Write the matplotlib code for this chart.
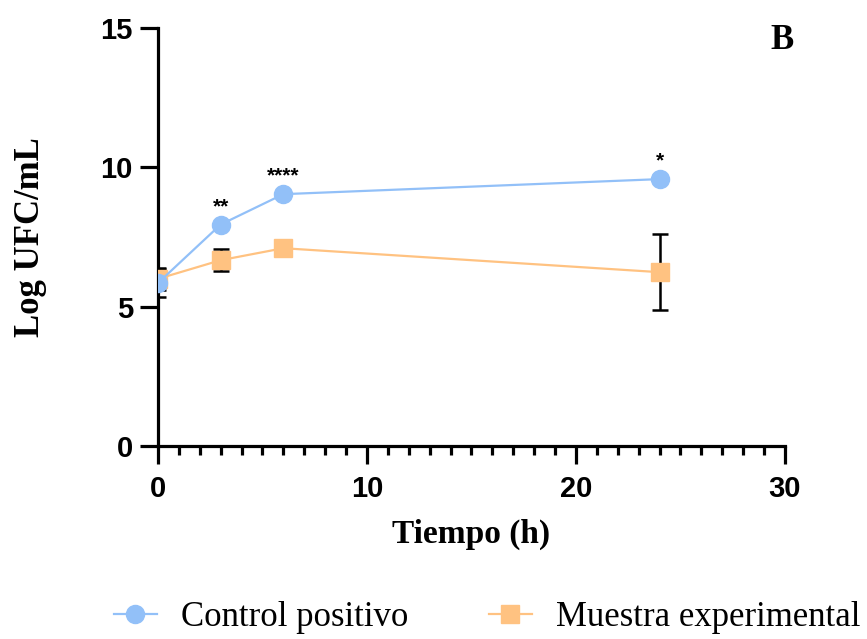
import matplotlib.pyplot as plt
from matplotlib.ticker import MultipleLocator

time_h = [0, 3, 6, 24]
control_mean = [5.85, 7.95, 9.04, 9.58]
control_err = [0.5, 0.0, 0.0, 0.0]
muestra_mean = [6.0, 6.67, 7.1, 6.24]
muestra_err = [0.4, 0.4, 0.0, 1.36]
stars = ["", "**", "****", "*"]

BLUE = "#92C0F8"
ORANGE = "#FFC281"

fig = plt.figure(figsize=(8.67, 6.39), dpi=100)
ax = fig.add_axes([0.1822, 0.302, 0.7232, 0.654])

# error bars sit below the markers
ax.errorbar(time_h, muestra_mean, yerr=muestra_err, fmt="none", ecolor="black",
            elinewidth=1.8, capsize=5.75, capthick=1.8, zorder=2)
ax.errorbar(time_h, control_mean, yerr=control_err, fmt="none", ecolor="black",
            elinewidth=1.8, capsize=5.75, capthick=1.8, zorder=2)

l2, = ax.plot(time_h, muestra_mean, color=ORANGE, lw=1.6, marker="s",
              markersize=12.5, zorder=3, label="Muestra experimental")
l1, = ax.plot(time_h, control_mean, color=BLUE, lw=1.6, marker="o",
              markersize=13, zorder=4, label="Control positivo")

for x, y, s in zip(time_h, control_mean, stars):
    if s:
        ax.annotate(s, (x, y), xytext=(0, 13), textcoords="offset points",
                    ha="center", va="center", fontsize=15, fontweight="bold",
                    family="Liberation Sans")

ax.set_xlim(0, 30)
ax.set_ylim(0, 15)
ax.xaxis.set_major_locator(MultipleLocator(10))
ax.xaxis.set_minor_locator(MultipleLocator(1))
ax.yaxis.set_major_locator(MultipleLocator(5))

for side in ["top", "right"]:
    ax.spines[side].set_visible(False)
for side in ["left", "bottom"]:
    ax.spines[side].set_linewidth(2.3)

ax.tick_params(which="major", length=13, width=2.3, pad=5)
ax.tick_params(axis="x", which="major", pad=8)
ax.tick_params(axis="x", which="minor", length=6.5, width=2.3)
for lab in ax.get_xticklabels() + ax.get_yticklabels():
    lab.set_family("Liberation Sans")
    lab.set_fontweight("bold")
    lab.set_fontsize(21)

ax.set_xlabel("Tiempo (h)", family="Liberation Serif", fontweight="bold", fontsize=24)
ax.set_ylabel("Log UFC/mL", family="Liberation Serif", fontweight="bold", fontsize=25)
ax.xaxis.set_label_coords(0.5, -0.175)
ax.yaxis.set_label_coords(-0.177, 0.5)

ax.text(0.995, 0.97, "B", transform=ax.transAxes, ha="center", va="center",
        family="Liberation Serif", fontweight="bold", fontsize=25)

fig.legend(handles=[l1, l2], loc="center", bbox_to_anchor=(0.562, 0.034), ncol=2,
           frameon=False, prop={"family": "Liberation Serif", "size": 25},
           handlelength=1.25, handletextpad=0.7, columnspacing=2.3, markerscale=1.0)

fig.savefig("out.png", dpi=100)
